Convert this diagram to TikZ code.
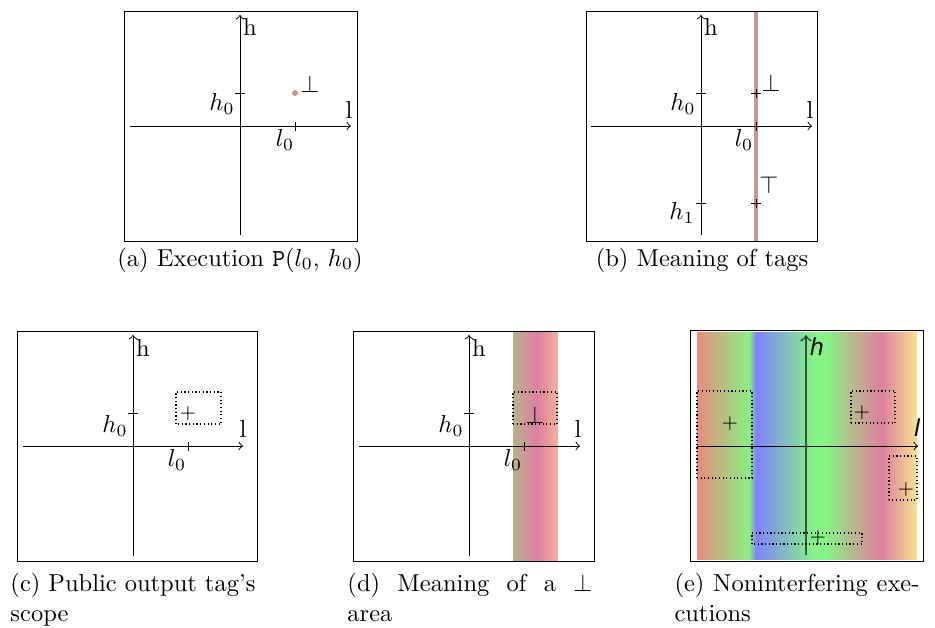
\documentclass[tikz,border=0pt]{standalone}
\usepackage{fontspec}
\newfontfamily\axisfont{Liberation Sans}

\definecolor{tagbrown}{RGB}{200,150,138}

\pgfdeclarehorizontalshading{execshade}{100bp}{
  rgb(0bp)=(0.91,0.55,0.50);
  rgb(25bp)=(0.91,0.55,0.50);
  rgb(36.8bp)=(0.54,0.94,0.50);
  rgb(38.4bp)=(0.51,0.51,1.0);
  rgb(51.6bp)=(0.52,0.96,0.52);
  rgb(54.3bp)=(0.52,0.96,0.52);
  rgb(61.1bp)=(0.75,0.69,0.56);
  rgb(67bp)=(0.87,0.50,0.63);
  rgb(75bp)=(0.97,0.89,0.55);
  rgb(100bp)=(0.97,0.89,0.55)}

\pgfdeclarehorizontalshading{botshade}{100bp}{
  rgb(0bp)=(0.72,0.70,0.55);
  rgb(25bp)=(0.72,0.70,0.55);
  rgb(52bp)=(0.87,0.50,0.63);
  rgb(75bp)=(0.95,0.70,0.60);
  rgb(100bp)=(0.95,0.70,0.60)}

\tikzset{
  tagbox/.style={densely dotted,line width=0.5pt},
  plusmark/.style={font=\footnotesize},
  subcap/.style={text width=100pt,align=justify,inner sep=0pt,anchor=north west}
}

\begin{document}
\begin{tikzpicture}[x=4.082pt,y=4.082pt]
    \useasboundingbox (0,-62.7) rectangle (93.5,0);

    \begin{scope}[shift={(24,-12.6)}]
    \draw (-11.6,-11.5) rectangle (11.7,11.5);
    \draw[->] (-11,0) -- (11.1,0);
    \draw[->] (0,-10.9) -- (0,11.1);
    \draw (-0.5,3.3) -- (0.5,3.3);
    \draw (5.5,-0.45) -- (5.5,0.45);
    \fill[tagbrown] (5.5,3.3) circle (0.3);
    \node (ha) at (1.0,9.9) {h};
    \node (la) at (10.9,1.6) {l};
    \node (h0a) at (-1.8,2.2) {$h_0$};
    \node (l0a) at (4.5,-1.4) {$l_0$};
    \node (bota) at (7.0,4.2) {$\perp$};
    \end{scope}
    \node (capa) at (24,-26) {(a) Execution \texttt{P}($l_0$, $h_0$)};

    \begin{scope}[shift={(70.1,-12.6)}]
    \draw[tagbrown,line width=1.5pt] (5.5,-11.5) -- (5.5,11.5);
    \draw (-11.5,-11.5) rectangle (11.6,11.5);
    \draw[->] (-11,0) -- (11.1,0);
    \draw[->] (0,-10.9) -- (0,11.1);
    \draw (-0.5,3.3) -- (0.5,3.3);
    \draw (-0.5,-7.7) -- (0.5,-7.7);
    \draw (5.5,-0.45) -- (5.5,0.45);
    \draw (5,3.3) -- (6,3.3) (5.5,2.85) -- (5.5,3.75);
    \draw (5,-7.7) -- (6,-7.7) (5.5,-8.15) -- (5.5,-7.25);
    \node (hb) at (1.0,9.9) {h};
    \node (lb) at (10.9,1.6) {l};
    \node (h0b) at (-1.8,2.2) {$h_0$};
    \node (h1b) at (-1.9,-8.7) {$h_1$};
    \node (l0b) at (4.3,-1.4) {$l_0$};
    \node (botb) at (7.0,4.3) {$\perp$};
    \node (topb) at (6.8,-5.9) {$\top$};
    \end{scope}
    \node (capb) at (70.2,-26) {(b) Meaning of tags};

    \begin{scope}[shift={(13.3,-44.6)}]
    \draw (-11.6,-11.5) rectangle (12.4,11.5);
    \draw[->] (-11,0) -- (11,0);
    \draw[->] (0,-11) -- (0,11.1);
    \draw (-0.5,3.3) -- (0.5,3.3);
    \draw (5.5,-0.45) -- (5.5,0.45);
    \draw[tagbox] (4.3,2.2) rectangle (8.8,5.4);
    \node[plusmark] (pc) at (5.5,3.2) {$+$};
    \node (hc) at (1.0,9.8) {h};
    \node (lc) at (11,1.7) {l};
    \node (h0c) at (-1.8,2.0) {$h_0$};
    \node (l0c) at (4.4,-1.4) {$l_0$};
    \end{scope}
    \node[subcap] (capc) at (1.0,-57.3) {(c) Public output tag's scope};

    \begin{scope}[shift={(46.9,-44.6)}]
    \shade[shading=botshade] (4.4,-11.5) rectangle (8.9,11.5);
    \draw (-11.6,-11.5) rectangle (12.5,11.5);
    \draw[->] (-11,0) -- (11.1,0);
    \draw[->] (0,-11) -- (0,11.1);
    \draw (-0.5,3.3) -- (0.5,3.3);
    \draw (5.5,-0.45) -- (5.5,0.45);
    \draw[tagbox] (4.4,2.2) rectangle (8.8,5.4);
    \node (botd) at (6.6,3.1) {$\perp$};
    \node (hd) at (1.0,9.8) {h};
    \node (ld) at (10.9,1.7) {l};
    \node (h0d) at (-1.8,2.0) {$h_0$};
    \node (l0d) at (4.4,-1.4) {$l_0$};
    \end{scope}
    \node[subcap] (capd) at (34.7,-57.3) {(d) Meaning of a $\perp$ area};

    \begin{scope}[shift={(80.6,-44.6)}]
    \draw (-11.6,-11.5) rectangle (11.7,11.6);
    \shade[shading=execshade] (-10.9,-11.3) rectangle (11.1,11.4);
    \draw[->] (-10.9,0) -- (11.2,0);
    \draw[->,draw opacity=0.6,line width=0.8pt] (0,-10.9) -- (0,11.1);
    \draw[tagbox] (-10.9,-3.2) rectangle (-5.4,5.5);
    \draw[tagbox] (4.5,2.3) rectangle (8.9,5.5);
    \draw[tagbox] (8.3,-5.4) rectangle (11.1,-1.0);
    \draw[tagbox] (-5.4,-9.8) rectangle (5.6,-8.7);
    \node[plusmark] (pe1) at (-7.6,2.2) {$+$};
    \node[plusmark] (pe2) at (5.6,3.3) {$+$};
    \node[plusmark] (pe3) at (10.0,-4.4) {$+$};
    \node[plusmark] (pe4) at (1.2,-9.2) {$+$};
    \node (he) at (1.1,9.9) {\axisfont\itshape h};
    \node (le) at (11.1,1.8) {\axisfont\itshape l};
    \end{scope}
    \node[subcap] (cape) at (67.4,-57.3) {(e) Noninterfering exe\-cutions};
  \end{tikzpicture}
\end{document}
